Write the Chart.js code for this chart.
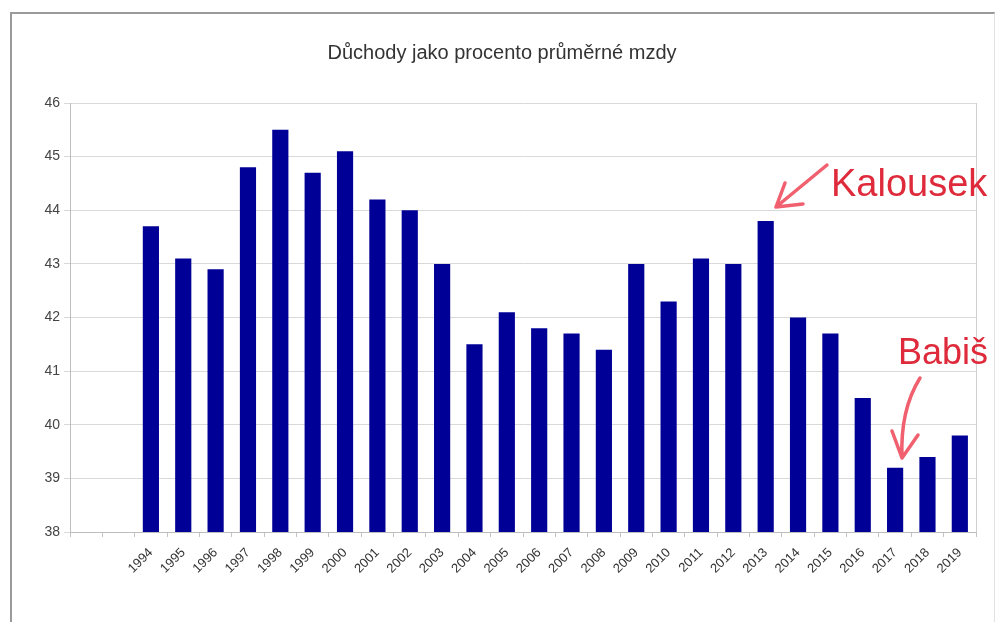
<!DOCTYPE html>
<html>
<head>
<meta charset="utf-8">
<script src="https://cdn.jsdelivr.net/npm/chart.js@4.4.1/dist/chart.umd.min.js"></script>
<style>
  html, body { margin: 0; padding: 0; background: #fff; }
  #wrap { position: relative; width: 995px; height: 622px; overflow: hidden; }
  #frame {
    position: absolute; left: 10px; top: 12px; width: 982px; height: 620px;
    border-top: 2px solid #9a9a9a; border-left: 2px solid #9a9a9a; border-right: 1px solid #e2e2e2;
  }
  canvas { position: absolute; left: 0; top: 0; }
</style>
</head>
<body>
<div id="wrap">
  <div id="frame"></div>
  <canvas id="target" width="995" height="622"></canvas>
</div>
<script>
// two empty slots before 1994, like in the original sheet
const years = ['', '', '1994', '1995', '1996', '1997', '1998', '1999', '2000', '2001', '2002',
  '2003', '2004', '2005', '2006', '2007', '2008', '2009', '2010', '2011', '2012',
  '2013', '2014', '2015', '2016', '2017', '2018', '2019'];
const pensionPct = [null, null, 43.7, 43.1, 42.9, 44.8, 45.5, 44.7, 45.1, 44.2, 44.0,
  43.0, 41.5, 42.1, 41.8, 41.7, 41.4, 43.0, 42.3, 43.1, 43.0,
  43.8, 42.0, 41.7, 40.5, 39.2, 39.4, 39.8];
const yTicks = [38, 39, 40, 41, 42, 43, 44, 45, 46];

const FONT = "'Liberation Sans', Arial, sans-serif";
const RED = '#de2a3a';
const PINK = '#f0606e';

const extras = {
	id: 'extras',
	afterDraw(chart) {
		const ctx = chart.ctx;
		const area = chart.chartArea;
		ctx.save();
		// plot border on the right
		ctx.strokeStyle = '#d0d0d0';
		ctx.lineWidth = 1;
		ctx.beginPath();
		ctx.moveTo(Math.round(area.right) + 0.5, area.top);
		ctx.lineTo(Math.round(area.right) + 0.5, area.bottom);
		ctx.stroke();

		// title
		ctx.fillStyle = '#333';
		ctx.font = '20px ' + FONT;
		ctx.textAlign = 'center';
		ctx.textBaseline = 'alphabetic';
		ctx.fillText('Důchody jako procento průměrné mzdy', 502, 59);

		// hand-written notes
		ctx.fillStyle = RED;
		ctx.textAlign = 'left';
		ctx.font = '38px ' + FONT;
		ctx.fillText('Kalousek', 831, 196);
		ctx.font = '36px ' + FONT;
		ctx.fillText('Babiš', 898, 364);

		ctx.strokeStyle = PINK;
		ctx.lineWidth = 3.5;
		ctx.lineCap = 'round';
		ctx.lineJoin = 'round';
		ctx.beginPath();
		ctx.moveTo(827, 165);
		ctx.lineTo(776, 207);
		ctx.moveTo(785, 183);
		ctx.lineTo(776, 207);
		ctx.lineTo(803, 204);
		ctx.stroke();

		ctx.beginPath();
		ctx.moveTo(920, 378);
		ctx.quadraticCurveTo(900, 410, 902, 458);
		ctx.moveTo(892, 431);
		ctx.lineTo(902, 458);
		ctx.lineTo(918, 435);
		ctx.stroke();
		ctx.restore();
	}
};

new Chart(document.getElementById('target'), {
	type: 'bar',
	data: {
		labels: years,
		datasets: [{
			data: pensionPct,
			backgroundColor: '#000096',
			borderWidth: 0,
			barPercentage: 0.5,
			categoryPercentage: 1
		}]
	},
	options: {
		responsive: false,
		animation: false,
		events: [],
		layout: { padding: { top: 103, left: 10, right: 19, bottom: 10 } },
		plugins: {
			legend: { display: false },
			title: { display: false },
			tooltip: { enabled: false }
		},
		scales: {
			x: {
				offset: true,
				afterFit(scale) { scale.height = 80; },
				border: { color: '#bdbdbd' },
				grid: { drawOnChartArea: false, tickLength: 5, color: '#c4c4c4' },
				ticks: {
					minRotation: 45, maxRotation: 45, autoSkip: false,
					color: '#333', font: { family: FONT, size: 13 }, padding: 8
				}
			},
			y: {
				min: 38,
				max: 46,
				afterFit(scale) { scale.width = 60; },
				afterBuildTicks(scale) { scale.ticks = yTicks.map(v => ({ value: v })); },
				border: { color: '#bdbdbd' },
				grid: { color: '#d9d9d9', tickLength: 6 },
				ticks: { color: '#444', font: { family: FONT, size: 14 }, padding: 4 }
			}
		}
	},
	plugins: [extras]
});
</script>
</body>
</html>
